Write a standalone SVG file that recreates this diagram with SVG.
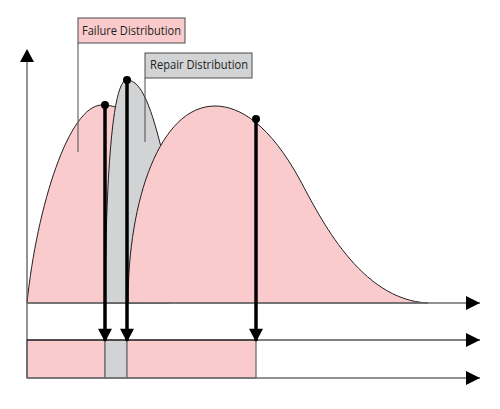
<svg xmlns="http://www.w3.org/2000/svg" width="500" height="409" viewBox="0 0 500 409">
<style>
.pink{fill:#f9cbcd}
.gray{fill:#d1d3d4}
.curve{stroke:#231f20;stroke-width:1}
.axis{stroke:#6d6e71;stroke-width:1.3;fill:none}
.bar{stroke:#6d6e71;stroke-width:1.3}
.lead{stroke:#4d4d4f;stroke-width:1;fill:none}
.box{stroke:#4d4d4f;stroke-width:1}
.lbl{font-family:"Open Sans","Liberation Sans",sans-serif;font-size:12px;fill:#231f20}
.drop{stroke:#000;stroke-width:3.5;fill:none}
</style>
<defs>
<marker id="ah" markerWidth="14" markerHeight="14" viewBox="0 0 14 14" refX="14" refY="7" orient="auto" markerUnits="userSpaceOnUse">
<path d="M0,0 L14,7 L0,14 Z" fill="#000"/>
</marker>
<marker id="dh" markerWidth="15" markerHeight="14" viewBox="0 0 14 15" refX="13" refY="7.5" orient="auto" markerUnits="userSpaceOnUse">
<path d="M0,0 L14,7.5 L0,15 Z" fill="#000"/>
</marker>
</defs>
<g id="failure-curve-1">
<path class="pink curve" d="M27,303 C37,206 69,105 102,105 C118,105 128,112 140,125 L140,303 Z"/>
</g>
<g id="repair-curve">
<path class="gray curve" d="M105,303 C106,180 112,80 127,80 C142,80 152,110 163,155 L170,303 Z"/>
</g>
<g id="failure-curve-2">
<path class="pink curve" d="M128,303 C128,200 160,106 215,106 C240,106 270,125 300,180 C320,217 360,300 428,303 Z"/>
</g>
<g id="bottom-bar">
<rect class="pink bar" x="27" y="340" width="78" height="38"/>
<rect class="gray bar" x="105" y="340" width="22" height="38"/>
<rect class="pink bar" x="127" y="340" width="129" height="38"/>
</g>
<g id="axes">
<line class="axis" x1="27" y1="378" x2="27" y2="62" style="stroke:#58595b"/>
<path d="M20,62 L27,49 L34,62 Z" fill="#000"/>
<line class="axis" x1="27" y1="303" x2="480" y2="303" marker-end="url(#ah)"/>
<line class="axis" x1="27" y1="340" x2="480" y2="340" marker-end="url(#ah)" style="stroke:#000;stroke-width:1.2"/>
<line class="axis" x1="27" y1="378" x2="480" y2="378" marker-end="url(#ah)"/>
</g>
<g id="connectors">
<line class="lead" x1="78" y1="43" x2="78" y2="152"/>
<line class="lead" x1="145" y1="78" x2="145" y2="142"/>
<line class="drop" x1="105" y1="105" x2="105" y2="341" marker-end="url(#dh)"/>
<line class="drop" x1="127" y1="80" x2="127" y2="341" marker-end="url(#dh)"/>
<line class="drop" x1="256" y1="119" x2="256" y2="341" marker-end="url(#dh)"/>
<circle cx="105" cy="105" r="4" fill="#000"/>
<circle cx="127" cy="80" r="4" fill="#000"/>
<circle cx="256" cy="119" r="4" fill="#000"/>
</g>
<g id="label-failure">
<rect class="pink box" x="78" y="18" width="107" height="25"/>
<text class="lbl" x="82" y="35" textLength="99" lengthAdjust="spacingAndGlyphs">Failure Distribution</text>
</g>
<g id="label-repair">
<rect class="gray box" x="145" y="53" width="107" height="25"/>
<text class="lbl" x="150" y="69" textLength="98" lengthAdjust="spacingAndGlyphs">Repair Distribution</text>
</g>
</svg>
